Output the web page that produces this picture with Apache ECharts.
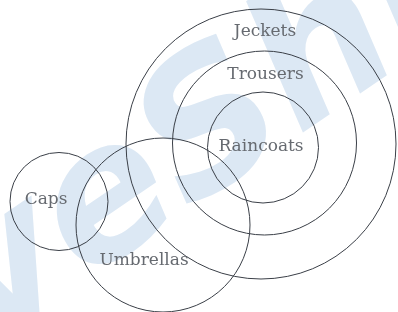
<!DOCTYPE html>
<html>
<head>
<meta charset="utf-8">
<script src="https://cdn.jsdelivr.net/npm/echarts@6/dist/echarts.min.js"></script>
<style>
  html, body { margin: 0; padding: 0; background: #fff; }
  #chart { width: 398px; height: 312px; }
</style>
</head>
<body>
<div id="chart"></div>
<script>
// sets of the diagram
var names = ["Jeckets", "Trousers", "Raincoats", "Umbrellas", "Caps"];
// circle centres and radii (diagram units)
var centerX = [261, 264.5, 263, 163, 59];
var centerY = [144, 143, 147.5, 225, 201.5];
var radius = [135, 92, 55.5, 87, 49];
// where each name sits
var labelX = [265, 265.5, 261, 144, 46];
var labelY = [32, 75, 147, 261, 200];

var data = names.map(function (n, i) {
  return [centerX[i], centerY[i], radius[i], labelX[i], labelY[i], n];
});

var chart = echarts.init(document.getElementById("chart"));
chart.setOption({
  animation: false,
  grid: { left: 0, right: 0, top: 0, bottom: 0 },
  xAxis: { type: "value", min: 0, max: 398, show: false },
  yAxis: { type: "value", min: 0, max: 312, inverse: true, show: false },
  graphic: [
    {
      // faint watermark behind the diagram
      type: "text",
      x: 195,
      y: 148,
      rotation: 0.6,
      z: -10,
      style: {
        text: "veShi",
        font: "italic bold 185px 'DejaVu Sans'",
        fill: "#dce8f4",
        align: "center",
        verticalAlign: "middle"
      }
    }
  ],
  series: [
    {
      type: "custom",
      coordinateSystem: "cartesian2d",
      data: data,
      renderItem: function (params, api) {
        var c = api.coord([api.value(0), api.value(1)]);
        var r = api.size([api.value(2), 0])[0];
        var l = api.coord([api.value(3), api.value(4)]);
        return {
          type: "group",
          children: [
            {
              type: "circle",
              shape: { cx: c[0], cy: c[1], r: r },
              style: { fill: "none", stroke: "#3a3f47", lineWidth: 1 }
            },
            {
              type: "text",
              x: l[0],
              y: l[1],
              style: {
                text: names[params.dataIndex],
                font: "17px 'DejaVu Serif'",
                fill: "#666a70",
                align: "center",
                verticalAlign: "middle"
              }
            }
          ]
        };
      }
    }
  ]
});
</script>
</body>
</html>
